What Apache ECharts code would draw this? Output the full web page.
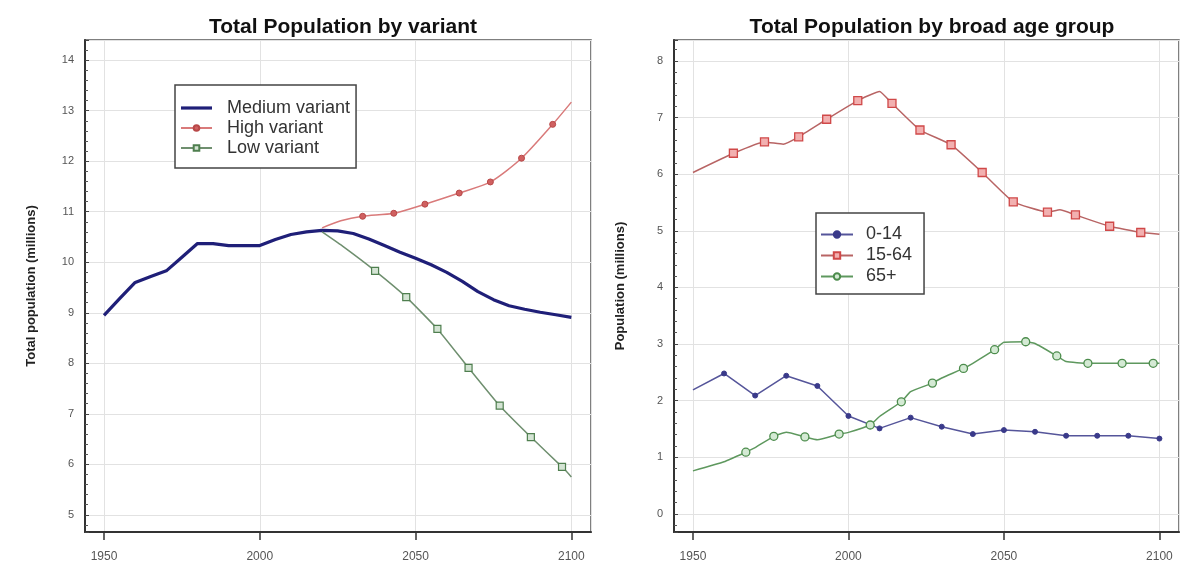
<!DOCTYPE html>
<html><head><meta charset="utf-8">
<script src="https://cdn.jsdelivr.net/npm/echarts@6/dist/echarts.min.js"></script>
<style>html,body{margin:0;padding:0;background:#fff}#c{width:1182px;height:568px}</style>
</head><body><div id="c"></div>
<script>
// ---------- Left chart: Total Population by variant ----------
const mediumYears = [1950,1955,1960,1965,1970,1975,1980,1985,1990,1995,2000,2005,2010,2015,2020,2025,2030,2035,2040,2045,2050,2055,2060,2065,2070,2075,2080,2085,2090,2095,2100];
const mediumValues = [8.95,9.28,9.6,9.72,9.83,10.1,10.37,10.37,10.33,10.33,10.33,10.45,10.55,10.6,10.63,10.62,10.57,10.46,10.33,10.2,10.08,9.95,9.8,9.62,9.42,9.26,9.14,9.07,9.01,8.96,8.91];

const highYears = [2020,2026,2033,2043,2053,2064,2074,2084,2094,2100];
const highValues = [10.68,10.82,10.91,10.97,11.15,11.37,11.59,12.06,12.73,13.17];
const highMarkerYears = [2033,2043,2053,2064,2074,2084,2094];

const lowYears = [2020,2027,2037,2047,2057,2067,2077,2087,2097,2100];
const lowValues = [10.6,10.3,9.83,9.31,8.68,7.91,7.16,6.54,5.95,5.75];
const lowMarkerYears = [2037,2047,2057,2067,2077,2087,2097];

// ---------- Right chart: Total Population by broad age group ----------
const age014Years = [1950,1960,1970,1980,1990,2000,2010,2020,2030,2040,2050,2060,2070,2080,2090,2100];
const age014Values = [2.19,2.48,2.09,2.44,2.26,1.73,1.51,1.70,1.54,1.41,1.48,1.45,1.38,1.38,1.38,1.33];
const age014MarkerYears = [1960,1970,1980,1990,2000,2010,2020,2030,2040,2050,2060,2070,2080,2090,2100];

const age1564Years = [1950,1963,1973,1979,1984,1993,2003,2010,2014,2023,2033,2043,2053,2064,2068,2073,2084,2094,2100];
const age1564Values = [6.03,6.37,6.57,6.53,6.66,6.97,7.30,7.46,7.25,6.78,6.52,6.03,5.51,5.33,5.37,5.28,5.08,4.97,4.94];
const age1564MarkerYears = [1963,1973,1984,1993,2003,2014,2023,2033,2043,2053,2064,2073,2084,2094];

const age65Years = [1950,1960,1967,1970,1976,1980,1986,1990,1997,2000,2007,2010,2017,2020,2027,2030,2037,2040,2047,2050,2057,2060,2067,2070,2077,2080,2088,2090,2098,2100];
const age65Values = [0.76,0.92,1.09,1.17,1.37,1.44,1.36,1.31,1.41,1.44,1.57,1.72,1.98,2.16,2.31,2.40,2.57,2.66,2.90,3.03,3.04,3.01,2.79,2.69,2.66,2.66,2.66,2.66,2.66,2.66];
const age65MarkerYears = [1967,1976,1986,1997,2007,2017,2027,2037,2047,2057,2067,2077,2088,2098];

const leftTitle = 'Total Population by variant';
const rightTitle = 'Total Population by broad age group';
const leftYName = 'Total population (millions)';
const rightYName = 'Population (millions)';

function pts(years, vals, markers) {
  return years.map((y, i) => (markers && markers.includes(y)) ? [y, vals[i]] : { value: [y, vals[i]], symbol: 'none' });
}

const FONT = "'Liberation Sans', Arial, sans-serif";
const chart = echarts.init(document.getElementById('c'), null, { renderer: 'canvas' });

function xAxis(gi) {
  return {
    type: 'value', gridIndex: gi, min: 1943.9, max: 2106.3, splitNumber: 3,
    axisLine: { show: true, onZero: false, lineStyle: { color: '#333', width: 2 } },
    axisTick: { show: true, inside: false, length: 8, lineStyle: { color: '#333', width: 1.5 } },
    axisLabel: { show: true, margin: 19, fontSize: 12, color: '#555', fontFamily: FONT, showMinLabel: false, showMaxLabel: false,
      formatter: v => String(Math.round(v)) },
    splitLine: { show: true, lineStyle: { color: '#e2e2e2', width: 1 } }
  };
}
function yAxis(gi, min, max, split, name) {
  return {
    type: 'value', gridIndex: gi, min: min, max: max, splitNumber: split,
    name: name, nameLocation: 'middle', nameGap: 47, nameRotate: 90,
    nameTextStyle: { fontSize: 13, fontWeight: 'bold', color: '#222', fontFamily: FONT },
    axisLine: { show: true, onZero: false, lineStyle: { color: '#333', width: 2 } },
    axisTick: { show: true, inside: true, length: 4, lineStyle: { color: '#444', width: 1 } },
    minorTick: { show: true, splitNumber: 5, length: 3, lineStyle: { color: '#555', width: 1 } },
    axisLabel: { show: true, margin: 11, fontSize: 11, color: '#555', fontFamily: FONT, showMinLabel: false, showMaxLabel: false },
    splitLine: { show: true, lineStyle: { color: '#e2e2e2', width: 1 } }
  };
}

const option = {
  backgroundColor: '#fff',
  animation: false,
  textStyle: { fontFamily: FONT },
  title: [
    { text: leftTitle, left: 338, top: 12, textAlign: 'center', textStyle: { fontSize: 21, fontWeight: 'bold', color: '#111', fontFamily: FONT } },
    { text: rightTitle, left: 927, top: 12, textAlign: 'center', textStyle: { fontSize: 21, fontWeight: 'bold', color: '#111', fontFamily: FONT } }
  ],
  grid: [
    { left: 85, right: 591, top: 40, bottom: 36, show: true, borderColor: '#555', borderWidth: 1.5, backgroundColor: '#fff' },
    { left: 674, right: 3, top: 40, bottom: 36, show: true, borderColor: '#555', borderWidth: 1.5, backgroundColor: '#fff' }
  ],
  xAxis: [xAxis(0), xAxis(1)],
  yAxis: [yAxis(0, 4.66, 14.4, 10, leftYName), yAxis(1, -0.32, 8.37, 9, rightYName)],
  legend: [
    {
      data: [{ name: 'Medium variant', icon: 'path://M0,0H31V3.2H0Z' }, 'High variant', 'Low variant'],
      orient: 'vertical', left: 175, top: 85, itemGap: 0, itemWidth: 31, itemHeight: 7,
      padding: [13, 6, 10, 5], borderColor: '#444', borderWidth: 1.5, backgroundColor: '#fff',
      textStyle: { fontSize: 18, color: '#333', lineHeight: 20, fontFamily: FONT, padding: [0, 0, 0, 10] }
    },
    {
      data: ['0-14', '15-64', '65+'],
      orient: 'vertical', left: 816, top: 213, itemGap: 0, itemWidth: 32, itemHeight: 8,
      padding: [11, 12, 7, 4], borderColor: '#444', borderWidth: 1.5, backgroundColor: '#fff',
      textStyle: { fontSize: 18, color: '#333', lineHeight: 21, fontFamily: FONT, padding: [0, 0, 0, 8] }
    }
  ],
  series: [
    { name: 'Medium variant', type: 'line', xAxisIndex: 0, yAxisIndex: 0, symbol: 'none',
      data: pts(mediumYears, mediumValues, null), smooth: false,
      lineStyle: { color: '#1f1f78', width: 3.2, join: 'round' }, itemStyle: { color: '#1f1f78' }, z: 3 },
    { name: 'High variant', type: 'line', xAxisIndex: 0, yAxisIndex: 0, symbol: 'circle', symbolSize: 6, showAllSymbol: true,
      data: pts(highYears, highValues, highMarkerYears), smooth: 0.25,
      lineStyle: { color: '#d97a7a', width: 1.5 }, itemStyle: { color: '#d06060', borderColor: '#b84848', borderWidth: 1 }, z: 4 },
    { name: 'Low variant', type: 'line', xAxisIndex: 0, yAxisIndex: 0, symbol: 'rect', symbolSize: 7, showAllSymbol: true,
      data: pts(lowYears, lowValues, lowMarkerYears), smooth: 0.15,
      lineStyle: { color: '#6f8f6f', width: 1.5 }, itemStyle: { color: '#d4e4d4', borderColor: '#4f7f4f', borderWidth: 1.2 }, z: 4 },

    { name: '0-14', type: 'line', xAxisIndex: 1, yAxisIndex: 1, symbol: 'circle', symbolSize: 5, showAllSymbol: true,
      data: pts(age014Years, age014Values, age014MarkerYears),
      lineStyle: { color: '#55559a', width: 1.5 }, itemStyle: { color: '#3a3a8a', borderColor: '#3a3a8a', borderWidth: 1 }, z: 4 },
    { name: '15-64', type: 'line', xAxisIndex: 1, yAxisIndex: 1, symbol: 'rect', symbolSize: 8, showAllSymbol: true,
      data: pts(age1564Years, age1564Values, age1564MarkerYears), smooth: 0.12,
      lineStyle: { color: '#b86464', width: 1.5 }, itemStyle: { color: '#f2b0b0', borderColor: '#d04848', borderWidth: 1.3 }, z: 4 },
    { name: '65+', type: 'line', xAxisIndex: 1, yAxisIndex: 1, symbol: 'circle', symbolSize: 8, showAllSymbol: true,
      data: pts(age65Years, age65Values, age65MarkerYears), smooth: 0.15,
      lineStyle: { color: '#5e985e', width: 1.5 }, itemStyle: { color: '#d4ead4', borderColor: '#4c8c4c', borderWidth: 1.3 }, z: 4 }
  ]
};
chart.setOption(option);
</script>
</body></html>
